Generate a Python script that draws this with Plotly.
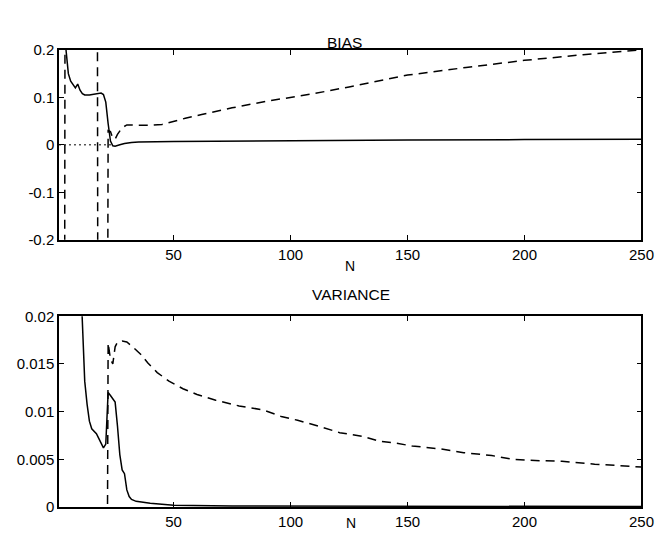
import plotly.graph_objects as go

# ---------------- data ----------------
# BIAS panel
bias_solid_n = [1, 2, 3, 4, 5, 6, 7, 8, 9, 10, 11, 12, 14, 16, 18, 19, 20, 21, 22, 23, 24, 25,
                27, 29, 32, 35, 50, 100, 150, 200, 250]
bias_solid = [0.9, 0.5, 0.3, 0.2, 0.15, 0.134, 0.127, 0.12, 0.128, 0.115, 0.108, 0.105, 0.105,
              0.106, 0.108, 0.109, 0.106, 0.09, 0.045, 0.008, -0.002, -0.003, 0.0, 0.003, 0.005,
              0.006, 0.007, 0.009, 0.010, 0.011, 0.012]

bias_dash_n = [1, 2, 3, 4, 10, 17, 18, 21, 22, 23, 24, 25, 26, 28, 30, 35, 40, 45, 50, 55, 62,
               75, 90, 110, 125, 150, 175, 200, 225, 250]
bias_dash = [-2.0, -2.0, -2.0, 2.0, 2.0, 2.0, -2.0, -2.0, 0.03, 0.028, 0.014, 0.012, 0.022,
             0.036, 0.042, 0.042, 0.041, 0.043, 0.05, 0.056, 0.064, 0.078, 0.092, 0.108, 0.122,
             0.147, 0.163, 0.178, 0.19, 0.2]

zero_ref_n = [1, 24]
zero_ref = [0.0, 0.0]

# VARIANCE panel
var_solid_n = [1, 5, 10, 11, 12, 13, 14, 15, 16, 17, 18, 19, 20, 21, 22, 23, 24, 25, 26, 27,
               28, 29, 30, 31, 32, 34, 40, 50, 75, 100, 150, 200, 250]
var_solid = [0.08, 0.04, 0.0255, 0.0185, 0.0132, 0.0108, 0.009, 0.0082, 0.008, 0.0077, 0.0072,
             0.0066, 0.0062, 0.0066, 0.012, 0.0117, 0.0114, 0.011, 0.0085, 0.0055, 0.0039,
             0.0035, 0.0018, 0.0011, 0.0008, 0.0006, 0.0004, 0.0002, 0.00012, 0.0001, 0.00008,
             0.00006, 0.00005]

var_dash_n = [21, 22, 23, 24, 25, 26, 28, 30, 32, 36, 39, 43, 48, 54, 60, 68, 78, 88, 96, 103,
              113, 121, 131, 138, 145, 152, 164, 174, 186, 195, 202, 216, 230, 247, 250]
var_dash = [-0.05, 0.0172, 0.0155, 0.015, 0.0168, 0.0173, 0.0174, 0.0173, 0.0169, 0.016, 0.0151,
            0.0141, 0.0132, 0.0124, 0.0118, 0.0112, 0.0106, 0.0102, 0.0095, 0.0091, 0.0084,
            0.0078, 0.0074, 0.0069, 0.0067, 0.0064, 0.0061, 0.0057, 0.0054, 0.005, 0.0049,
            0.0048, 0.0045, 0.0042, 0.0042]

x_ticks = [50, 100, 150, 200, 250]
bias_ticks = [-0.2, -0.1, 0, 0.1, 0.2]
bias_tick_text = ["-0.2", "-0.1", "0", "0.1", "0.2"]
var_ticks = [0, 0.005, 0.01, 0.015, 0.02]
var_tick_text = ["0", "0.005", "0.01", "0.015", "0.02"]

# ---------------- figure ----------------
W, H = 671, 540
FONT = "Liberation Sans"
LW = 1.5
DASH = "9px,6px"

fig = go.Figure()
fig.add_trace(go.Scatter(x=zero_ref_n, y=zero_ref, mode="lines", xaxis="x", yaxis="y",
                         line=dict(color="black", width=1, dash="2px,3px"), showlegend=False))
fig.add_trace(go.Scatter(x=bias_solid_n, y=bias_solid, mode="lines", xaxis="x", yaxis="y",
                         line=dict(color="black", width=LW), showlegend=False))
fig.add_trace(go.Scatter(x=bias_dash_n, y=bias_dash, mode="lines", xaxis="x", yaxis="y",
                         line=dict(color="black", width=LW, dash=DASH), showlegend=False))
fig.add_trace(go.Scatter(x=var_solid_n, y=var_solid, mode="lines", xaxis="x2", yaxis="y2",
                         line=dict(color="black", width=LW), showlegend=False))
fig.add_trace(go.Scatter(x=var_dash_n, y=var_dash, mode="lines", xaxis="x2", yaxis="y2",
                         line=dict(color="black", width=LW, dash=DASH), showlegend=False))

def px_x(p):
    return p / W

def px_y(p):
    return 1 - p / H

xdom = [px_x(52), px_x(646)]
axis_common = dict(showline=True, linecolor="black", linewidth=1.5, mirror="ticks",
                   ticks="inside", ticklen=5, tickwidth=1.2, tickcolor="black",
                   showgrid=False, zeroline=False,
                   tickfont=dict(family=FONT, size=15, color="black"))

fig.update_layout(
    width=W, height=H, margin=dict(l=0, r=0, t=0, b=0),
    paper_bgcolor="white", plot_bgcolor="white",
    xaxis=dict(domain=xdom, anchor="y", range=[1, 250], tickvals=x_ticks, **axis_common),
    yaxis=dict(domain=[px_y(230), px_y(34)], anchor="x", range=[-0.2, 0.2],
               tickvals=bias_ticks, ticktext=bias_tick_text, **axis_common),
    xaxis2=dict(domain=xdom, anchor="y2", range=[1, 250], tickvals=x_ticks, **axis_common),
    yaxis2=dict(domain=[px_y(506), px_y(309)], anchor="x2", range=[0, 0.02],
                tickvals=var_ticks, ticktext=var_tick_text, **axis_common),
    annotations=[
        dict(text="BIAS", x=px_x(343), y=px_y(16), xref="paper", yref="paper",
             showarrow=False, font=dict(family=FONT, size=15.5, color="black")),
        dict(text="N", x=px_x(349), y=px_y(257), xref="paper", yref="paper",
             showarrow=False, font=dict(family=FONT, size=14, color="black")),
        dict(text="VARIANCE", x=px_x(350), y=px_y(287), xref="paper", yref="paper",
             showarrow=False, font=dict(family=FONT, size=15.5, color="black")),
        dict(text="N", x=px_x(350), y=px_y(533), xref="paper", yref="paper",
             showarrow=False, font=dict(family=FONT, size=14, color="black")),
    ],
)

fig.write_html("out.html")
